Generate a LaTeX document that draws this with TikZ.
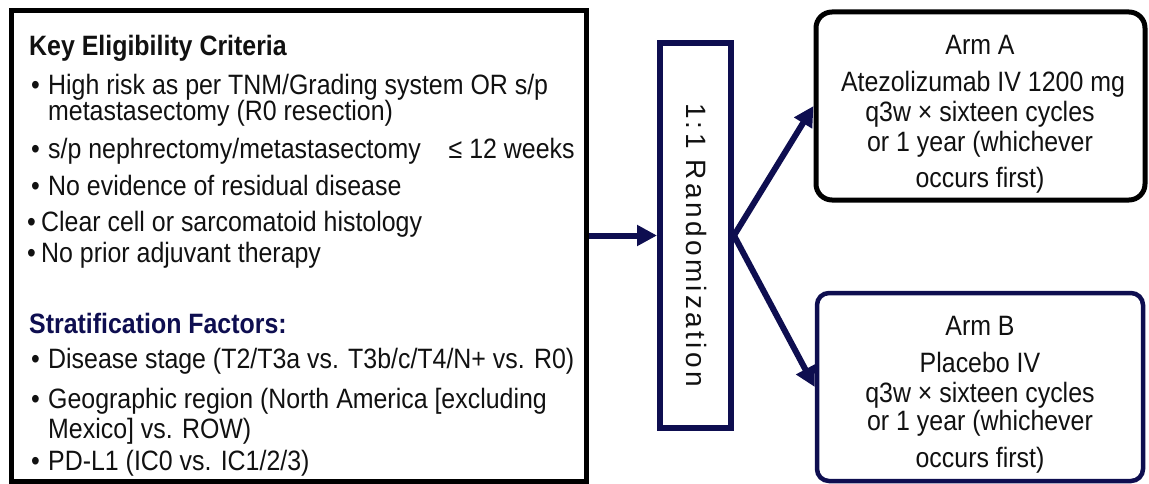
\documentclass[tikz,border=0pt]{standalone}
\usepackage{fontspec}
\setmainfont[FakeStretch=0.89]{Liberation Sans}
\newfontfamily\randfont[LetterSpace=12]{Liberation Sans}
\usetikzlibrary{arrows.meta}
\definecolor{navy}{RGB}{14,14,80}
\definecolor{ink}{RGB}{17,17,17}
\tikzset{
  txt/.style={anchor=base west, inner sep=0pt, font=\fontsize{28}{30}\selectfont, text=ink},
  hdr/.style={anchor=base west, inner sep=0pt, font=\fontsize{28}{30}\selectfont\bfseries, text=ink},
  bul/.style={anchor=base west, inner sep=0pt, font=\fontsize{28}{30}\selectfont, text=ink},
  ctr/.style={anchor=base, inner sep=0pt, font=\fontsize{28}{30}\selectfont, text=ink},
  conn/.style={draw=navy, line width=6pt, -{Triangle[length=20pt,width=20pt]}},
}
\begin{document}
\begin{tikzpicture}[x=1pt,y=-1pt]
\useasboundingbox (0,0) rectangle (1149,484);
% boxes
\node[draw=black, line width=5pt, minimum width=575pt, minimum height=470pt, inner sep=0pt] (crit) at (298.5,246) {};
\node[draw=navy, line width=6pt, minimum width=71pt, minimum height=385pt, inner sep=0pt] (rand) at (695.5,235.5) {};
\node[draw=black, line width=5pt, rounded corners=16pt, minimum width=329pt, minimum height=188pt, inner sep=0pt] (armA) at (980.5,106) {};
\node[draw=navy, line width=4.5pt, rounded corners=12pt, minimum width=326pt, minimum height=188pt, inner sep=0pt] (armB) at (980,387) {};
% left texts
\node[hdr] (k0) at (29,56) {Key Eligibility Criteria};
\node[bul] (b1) at (31,95) {•};
\node[txt] (t1) at (48,95) {High risk as per TNM/Grading system OR s/p};
\node[txt] (t1b) at (48,121) {metastasectomy (R0 resection)};
\node[bul] (b2) at (31,159) {•};
\node[txt] (t2) at (48,159) {s/p nephrectomy/metastasectomy\quad ≤ 12 weeks};
\node[bul] (b3) at (31,195) {•};
\node[txt] (t3) at (48,195) {No evidence of residual disease};
\node[bul] (b4) at (27,231) {•};
\node[txt] (t4) at (41,231) {Clear cell or sarcomatoid histology};
\node[bul] (b5) at (27,262) {•};
\node[txt] (t5) at (41,262) {No prior adjuvant therapy};
\node[hdr, text=navy] (s0) at (29,333) {Stratification Factors:};
\node[bul] (b6) at (31,368) {•};
\node[txt] (t6) at (48,368) {Disease stage (T2/T3a vs. T3b/c/T4/N+ vs. R0)};
\node[bul] (b7) at (31,408) {•};
\node[txt] (t7) at (48,408) {Geographic region (North America [excluding};
\node[txt] (t7b) at (48,438) {Mexico] vs. ROW)};
\node[bul] (b8) at (31,470) {•};
\node[txt] (t8) at (48,470) {PD-L1 (IC0 vs. IC1/2/3)};
% randomization
\node[inner sep=0pt, rotate=-90, font=\randfont\fontsize{28}{30}\selectfont, text=ink] (rt) at (697,245) {1:1 Randomization};
% arm A
\node[ctr] (a1) at (980,55) {Arm A};
\node[ctr] (a2) at (983,92) {Atezolizumab IV 1200 mg};
\node[ctr] (a3) at (980,122) {q3w × sixteen cycles};
\node[ctr] (a4) at (980,152) {or 1 year (whichever};
\node[ctr] (a5) at (980,187) {occurs first)};
% arm B
\node[ctr] (c1) at (980,335) {Arm B};
\node[ctr] (c2) at (980,372) {Placebo IV};
\node[ctr] (c3) at (980,402) {q3w × sixteen cycles};
\node[ctr] (c4) at (980,430) {or 1 year (whichever};
\node[ctr] (c5) at (980,467) {occurs first)};
% connectors
\draw[conn] (crit.east |- rand.west) -- (rand.west);
\draw[conn] (rand.east) -- (armA.west);
\draw[conn] (rand.east) -- (armB.west);
\end{tikzpicture}
\end{document}
